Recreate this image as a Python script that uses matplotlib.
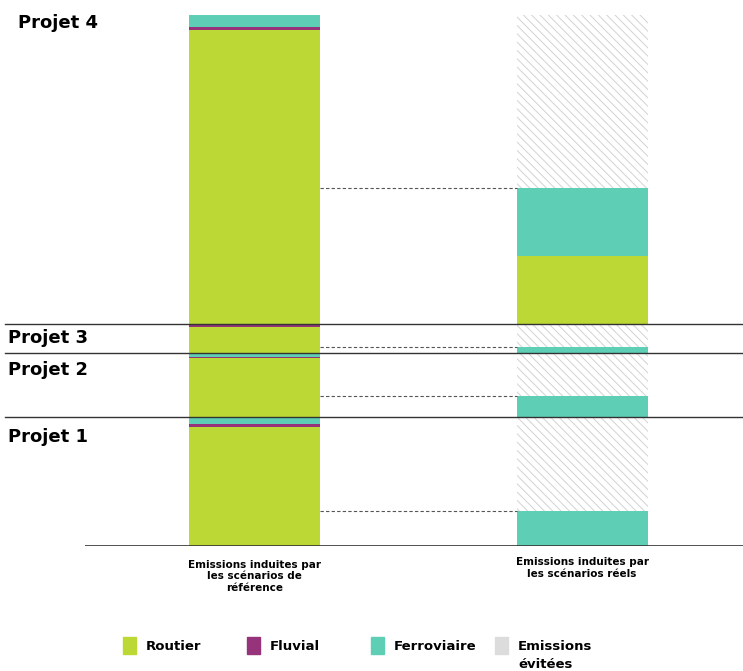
import matplotlib.pyplot as plt
import matplotlib.transforms as mtransforms
from matplotlib.patches import Rectangle
import numpy as np

plt.rcParams['font.family'] = ['DejaVu Sans']
plt.rcParams['hatch.color'] = '#d2d2d2'
plt.rcParams['hatch.linewidth'] = 0.7

projets = ["Projet 1", "Projet 2", "Projet 3", "Projet 4"]
bar_labels = ["Emissions induites par\nles scénarios de\nréférence",
              "Emissions induites par\nles scénarios réels"]

# scénario de référence, par projet
ref_routier = [119, 59, 26, 294]
ref_fluvial = [3, 1.5, 2, 3]
ref_ferro = [7, 3.5, 1, 12]

# scénario réel, par projet
reel_routier = [0, 0, 0, 68]
reel_fluvial = [0, 0, 0, 0]
reel_ferro = [35, 21, 6, 68]

c_routier = '#bbd835'
c_fluvial = '#96337a'
c_ferro = '#5ecfb5'
c_evite = '#dcdcdc'

fig = plt.figure(figsize=(7.43, 6.71), dpi=100)
ax = fig.add_axes([85 / 743, 125 / 671, 658 / 743, 531 / 671])

x_ref, x_reel = 0, 1
w = 0.40

ref_tot = np.array(ref_routier) + np.array(ref_fluvial) + np.array(ref_ferro)
reel_tot = np.array(reel_routier) + np.array(reel_fluvial) + np.array(reel_ferro)

base = 0
for i in range(len(projets)):
    # barre de référence
    b = base
    for val, col in [(ref_routier[i], c_routier), (ref_fluvial[i], c_fluvial),
                     (ref_ferro[i], c_ferro)]:
        ax.bar(x_ref, val, w, bottom=b, color=col, linewidth=0)
        b += val
    # barre réelle
    b = base
    for val, col in [(reel_routier[i], c_routier), (reel_fluvial[i], c_fluvial),
                     (reel_ferro[i], c_ferro)]:
        if val > 0:
            ax.bar(x_reel, val, w, bottom=b, color=col, linewidth=0)
        b += val
    # emissions évitées
    ax.bar(x_reel, ref_tot[i] - reel_tot[i], w, bottom=b, facecolor='white',
           edgecolor='#d2d2d2', hatch='\\\\\\\\', linewidth=0)
    # pointillés entre les deux barres
    ax.plot([x_ref + w / 2, x_reel - w / 2], [b, b], color='#555555',
            linestyle=(0, (3, 2)), linewidth=0.8)
    base += ref_tot[i]
    # séparation entre projets
    if i < len(projets) - 1:
        ax.axhline(base, xmin=-80 / 658, xmax=1, color='#333333', lw=1,
                   clip_on=False, zorder=5)

ax.axhline(0, color='#333333', lw=1.2, zorder=5)

# noms des projets
trans = mtransforms.blended_transform_factory(fig.transFigure, ax.transData)
tops = np.cumsum(ref_tot)
label_x = [8, 8, 8, 18]
label_dy = [-14.4, -12.2, -9.8, -5.8]
for i, p in enumerate(projets):
    ax.annotate(p, xy=(label_x[i] / 743, tops[i]), xycoords=trans,
                xytext=(0, label_dy[i]), textcoords='offset points',
                ha='left', va='center', fontsize=13, fontweight='bold')

ax.set_xlim(-0.5176, 1.4916)
ax.set_ylim(0, tops[-1])
ax.axis('off')

for xc, lab, yy in [(x_ref, bar_labels[0], -10), (x_reel, bar_labels[1], -8)]:
    ax.annotate(lab, xy=(xc, 0), xytext=(0, yy), textcoords='offset points',
                ha='center', va='top', fontsize=7.5, fontweight='bold',
                linespacing=1.2, annotation_clip=False)

# légende
leg_cols = [c_routier, c_fluvial, c_ferro, c_evite]
leg_names = ["Routier", "Fluvial", "Ferroviaire", "Emissions\névitées"]
leg_x = [123, 247, 371, 495]
for xl, col, name in zip(leg_x, leg_cols, leg_names):
    fig.patches.append(Rectangle((xl / 743, 1 - 654 / 671), 13 / 743, 17.5 / 671,
                                 transform=fig.transFigure, color=col))
    fig.text((xl + 23) / 743, 1 - 647 / 671, name.split("\n")[0], ha='left',
             va='center', fontsize=9.5, fontweight='bold')
    if "\n" in name:
        fig.text((xl + 23) / 743, 1 - 665 / 671, name.split("\n")[1], ha='left',
                 va='center', fontsize=9.5, fontweight='bold')

fig.savefig('out.png', dpi=100)
